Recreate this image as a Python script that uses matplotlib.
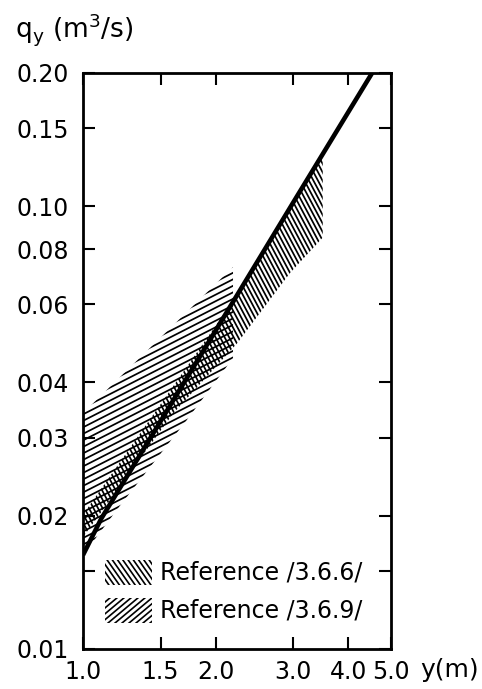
import numpy as np
import matplotlib
matplotlib.use("Agg")
import matplotlib.pyplot as plt
from matplotlib.patches import Polygon
from matplotlib.collections import LineCollection
from matplotlib.ticker import NullLocator

# ---- data ----
# main curve q_y(y)
curve_y = [1.0, 1.1, 1.5, 2.0, 3.0, 4.53]
curve_q = [0.0163, 0.0197, 0.0327, 0.0524, 0.102, 0.20]

# band from Reference /3.6.6/  (upper edge, then lower edge back)
ref366_upper_y = [1.0, 2.2, 3.5]
ref366_upper_q = [0.0201, 0.0615, 0.130]
ref366_lower_y = [3.5, 2.95, 2.24, 1.6, 1.0]
ref366_lower_q = [0.085, 0.0707, 0.0491, 0.034, 0.0179]

# band from Reference /3.6.9/
ref369_upper_y = [1.0, 2.19]
ref369_upper_q = [0.0341, 0.0729]
ref369_lower_y = [2.19, 1.72, 1.21, 1.0]
ref369_lower_q = [0.0454, 0.0329, 0.021, 0.0163]

x_ticks = [1.0, 1.5, 2.0, 3.0, 4.0, 5.0]
x_labels = ["1.0", "1.5", "2.0", "3.0", "4.0", "5.0"]
y_ticks = [0.01, 0.015, 0.02, 0.03, 0.04, 0.06, 0.08, 0.10, 0.15, 0.20]
y_labels = ["0.01", "", "0.02", "0.03", "0.04", "0.06", "0.08", "0.10", "0.15", "0.20"]

legend_labels = ["Reference /3.6.6/", "Reference /3.6.9/"]

plt.rcParams["font.family"] = ["DejaVu Sans"]
FS = 17

W_PX, H_PX = 482, 689
fig = plt.figure(figsize=(W_PX / 100, H_PX / 100), dpi=100)
ax = fig.add_axes([83 / W_PX, 40 / H_PX, 308 / W_PX, 576 / H_PX])
ax_w, ax_h = 308.0, 576.0  # axes size in pixels


def hatch(clip_patch, angle, spacing, lw=1.15):
    # parallel lines in axes-pixel space, clipped to the patch
    t = np.deg2rad(angle)
    d = np.array([np.cos(t), np.sin(t)])
    n = np.array([-np.sin(t), np.cos(t)])
    L = np.hypot(ax_w, ax_h) * 1.2
    centre = np.array([ax_w / 2, ax_h / 2])
    segs = []
    for c in np.arange(-L, L, spacing):
        p0 = centre + c * n - L * d
        p1 = centre + c * n + L * d
        segs.append([(p0[0] / ax_w, p0[1] / ax_h), (p1[0] / ax_w, p1[1] / ax_h)])
    lc = LineCollection(segs, colors="black", linewidths=lw, transform=ax.transAxes)
    ax.add_collection(lc)
    lc.set_clip_path(clip_patch)


def band(upper_y, upper_q, lower_y, lower_q):
    pts = np.column_stack([list(upper_y) + list(lower_y), list(upper_q) + list(lower_q)])
    p = Polygon(pts, closed=True, facecolor="none", edgecolor="none", transform=ax.transData)
    ax.add_patch(p)
    return p


ax.set_xscale("log")
ax.set_yscale("log")
ax.set_xlim(1.0, 5.0)
ax.set_ylim(0.01, 0.20)

p366 = band(ref366_upper_y, ref366_upper_q, ref366_lower_y, ref366_lower_q)
hatch(p366, -62, 4.0, lw=1.25)
p369 = band(ref369_upper_y, ref369_upper_q, ref369_lower_y, ref369_lower_q)
hatch(p369, 27, 5.8, lw=1.25)

ax.plot(curve_y, curve_q, color="black", lw=3.3, solid_capstyle="butt", zorder=5)

# legend drawn by hand so the hatch matches
for i, (lab, ang, sp) in enumerate(zip(legend_labels, [-55, 40], [4.3, 4.5])):
    y0 = 0.111 - i * 0.066
    r = Polygon([(0.071, y0), (0.224, y0), (0.224, y0 + 0.044), (0.071, y0 + 0.044)],
                closed=True, facecolor="none", edgecolor="none", transform=ax.transAxes)
    ax.add_patch(r)
    hatch(r, ang, sp, lw=1.2)
    ax.text(0.25, y0 + 0.021, lab, transform=ax.transAxes, fontsize=FS,
            va="center", ha="left")

ax.xaxis.set_minor_locator(NullLocator())
ax.yaxis.set_minor_locator(NullLocator())
ax.set_xticks(x_ticks)
ax.set_xticklabels(x_labels)
ax.set_yticks(y_ticks)
ax.set_yticklabels(y_labels)
ax.tick_params(direction="in", top=True, right=True, length=8.5, width=1.5,
               labelsize=FS, color="black")
ax.tick_params(axis="y", pad=10)
ax.tick_params(axis="x", pad=8)
for s in ax.spines.values():
    s.set_linewidth(2.0)

fig.text(15 / W_PX, 1 - 38 / H_PX, r"q$_\mathregular{y}$ (m$^\mathregular{3}$/s)",
         fontsize=FS + 2, ha="left", va="baseline")
fig.text(420 / W_PX, 1 - 670 / H_PX, "y(m)", fontsize=FS + 1, ha="left", va="center")

fig.savefig("out.png", dpi=100)
